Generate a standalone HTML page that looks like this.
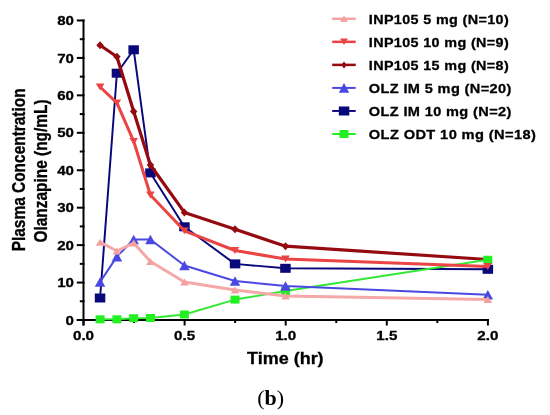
<!DOCTYPE html>
<html><head><meta charset="utf-8"><style>
html,body{margin:0;padding:0;background:#fff;}
svg{display:block;filter:blur(0.35px);}
.tk{font-family:"Liberation Sans",sans-serif;font-weight:bold;font-size:13px;fill:#000;stroke:#000;stroke-width:0.3px;}
.lg{font-family:"Liberation Sans",sans-serif;font-weight:bold;font-size:13.6px;letter-spacing:0.35px;fill:#000;stroke:#000;stroke-width:0.3px;}
.at{font-family:"Liberation Sans",sans-serif;font-weight:bold;font-size:16px;fill:#000;stroke:#000;stroke-width:0.3px;}
.yt{font-family:"Liberation Sans",sans-serif;font-weight:bold;font-size:15.45px;fill:#000;stroke:#000;stroke-width:0.3px;}
.cap{font-family:"Liberation Serif",serif;font-size:20px;fill:#000;}
</style></head><body>
<svg width="550" height="415" viewBox="0 0 550 415">
<rect width="550" height="415" fill="#fff"/>
<line x1="83.5" y1="19.5" x2="83.5" y2="325.5" stroke="#000" stroke-width="2"/>
<line x1="76.8" y1="320" x2="488.9" y2="320" stroke="#000" stroke-width="2"/>
<line x1="76.8" y1="320.00" x2="84.5" y2="320.00" stroke="#000" stroke-width="2"/>
<text transform="translate(74.0,324.60) scale(1.16,1)" class="tk" text-anchor="end">0</text>
<line x1="79.8" y1="301.28" x2="84.5" y2="301.28" stroke="#000" stroke-width="2"/>
<line x1="76.8" y1="282.56" x2="84.5" y2="282.56" stroke="#000" stroke-width="2"/>
<text transform="translate(74.0,287.16) scale(1.16,1)" class="tk" text-anchor="end">10</text>
<line x1="79.8" y1="263.84" x2="84.5" y2="263.84" stroke="#000" stroke-width="2"/>
<line x1="76.8" y1="245.12" x2="84.5" y2="245.12" stroke="#000" stroke-width="2"/>
<text transform="translate(74.0,249.72) scale(1.16,1)" class="tk" text-anchor="end">20</text>
<line x1="79.8" y1="226.40" x2="84.5" y2="226.40" stroke="#000" stroke-width="2"/>
<line x1="76.8" y1="207.68" x2="84.5" y2="207.68" stroke="#000" stroke-width="2"/>
<text transform="translate(74.0,212.28) scale(1.16,1)" class="tk" text-anchor="end">30</text>
<line x1="79.8" y1="188.96" x2="84.5" y2="188.96" stroke="#000" stroke-width="2"/>
<line x1="76.8" y1="170.24" x2="84.5" y2="170.24" stroke="#000" stroke-width="2"/>
<text transform="translate(74.0,174.84) scale(1.16,1)" class="tk" text-anchor="end">40</text>
<line x1="79.8" y1="151.52" x2="84.5" y2="151.52" stroke="#000" stroke-width="2"/>
<line x1="76.8" y1="132.80" x2="84.5" y2="132.80" stroke="#000" stroke-width="2"/>
<text transform="translate(74.0,137.40) scale(1.16,1)" class="tk" text-anchor="end">50</text>
<line x1="79.8" y1="114.08" x2="84.5" y2="114.08" stroke="#000" stroke-width="2"/>
<line x1="76.8" y1="95.36" x2="84.5" y2="95.36" stroke="#000" stroke-width="2"/>
<text transform="translate(74.0,99.96) scale(1.16,1)" class="tk" text-anchor="end">60</text>
<line x1="79.8" y1="76.64" x2="84.5" y2="76.64" stroke="#000" stroke-width="2"/>
<line x1="76.8" y1="57.92" x2="84.5" y2="57.92" stroke="#000" stroke-width="2"/>
<text transform="translate(74.0,62.52) scale(1.16,1)" class="tk" text-anchor="end">70</text>
<line x1="79.8" y1="39.20" x2="84.5" y2="39.20" stroke="#000" stroke-width="2"/>
<line x1="76.8" y1="20.48" x2="84.5" y2="20.48" stroke="#000" stroke-width="2"/>
<text transform="translate(74.0,25.08) scale(1.16,1)" class="tk" text-anchor="end">80</text>
<line x1="83.50" y1="319" x2="83.50" y2="325.5" stroke="#000" stroke-width="2"/>
<text transform="translate(83.50,339.8) scale(1.17,1)" class="tk" text-anchor="middle">0.0</text>
<line x1="134.05" y1="319" x2="134.05" y2="323" stroke="#000" stroke-width="2"/>
<line x1="184.60" y1="319" x2="184.60" y2="325.5" stroke="#000" stroke-width="2"/>
<text transform="translate(184.60,339.8) scale(1.17,1)" class="tk" text-anchor="middle">0.5</text>
<line x1="235.15" y1="319" x2="235.15" y2="323" stroke="#000" stroke-width="2"/>
<line x1="285.70" y1="319" x2="285.70" y2="325.5" stroke="#000" stroke-width="2"/>
<text transform="translate(285.70,339.8) scale(1.17,1)" class="tk" text-anchor="middle">1.0</text>
<line x1="336.25" y1="319" x2="336.25" y2="323" stroke="#000" stroke-width="2"/>
<line x1="386.80" y1="319" x2="386.80" y2="325.5" stroke="#000" stroke-width="2"/>
<text transform="translate(386.80,339.8) scale(1.17,1)" class="tk" text-anchor="middle">1.5</text>
<line x1="437.35" y1="319" x2="437.35" y2="323" stroke="#000" stroke-width="2"/>
<line x1="487.90" y1="319" x2="487.90" y2="325.5" stroke="#000" stroke-width="2"/>
<text transform="translate(487.90,339.8) scale(1.17,1)" class="tk" text-anchor="middle">2.0</text>
<polyline points="100.1,298.0 116.9,73.2 133.7,49.8 150.4,172.9 184.4,226.8 235.0,263.9 285.5,268.3 487.8,269.3" fill="none" stroke="#08087A" stroke-width="1.95" stroke-linejoin="round"/>
<rect x="94.8" y="293.5" width="10.5" height="9" fill="#08087A"/>
<rect x="111.7" y="68.7" width="10.5" height="9" fill="#08087A"/>
<rect x="128.4" y="45.3" width="10.5" height="9" fill="#08087A"/>
<rect x="145.2" y="168.4" width="10.5" height="9" fill="#08087A"/>
<rect x="179.2" y="222.3" width="10.5" height="9" fill="#08087A"/>
<rect x="229.8" y="259.4" width="10.5" height="9" fill="#08087A"/>
<rect x="280.2" y="263.8" width="10.5" height="9" fill="#08087A"/>
<rect x="482.6" y="264.8" width="10.5" height="9" fill="#08087A"/>
<polyline points="100.1,45.3 116.9,56.8 133.7,111.5 150.4,165.0 184.4,212.4 235.0,229.3 285.5,246.2 487.8,259.5" fill="none" stroke="#950A10" stroke-width="3.2" stroke-linejoin="round"/>
<polygon points="96.3,45.3 100.1,41.3 103.8,45.3 100.1,49.3" fill="#950A10"/>
<polygon points="113.2,56.8 116.9,52.8 120.7,56.8 116.9,60.8" fill="#950A10"/>
<polygon points="129.9,111.5 133.7,107.5 137.4,111.5 133.7,115.5" fill="#950A10"/>
<polygon points="146.7,165.0 150.4,161.0 154.2,165.0 150.4,169.0" fill="#950A10"/>
<polygon points="180.7,212.4 184.4,208.4 188.2,212.4 184.4,216.4" fill="#950A10"/>
<polygon points="231.2,229.3 235.0,225.3 238.8,229.3 235.0,233.3" fill="#950A10"/>
<polygon points="281.8,246.2 285.5,242.2 289.2,246.2 285.5,250.2" fill="#950A10"/>
<polygon points="484.1,259.5 487.8,255.5 491.6,259.5 487.8,263.5" fill="#950A10"/>
<polyline points="100.1,319.3 116.9,319.3 133.7,318.2 150.4,318.0 184.4,314.5 235.0,299.6 285.5,291.0 487.8,259.8" fill="none" stroke="#36E836" stroke-width="2" stroke-linejoin="round"/>
<rect x="95.6" y="315.3" width="9" height="8" fill="#22F022"/>
<rect x="112.4" y="315.3" width="9" height="8" fill="#22F022"/>
<rect x="129.2" y="314.2" width="9" height="8" fill="#22F022"/>
<rect x="145.9" y="314.0" width="9" height="8" fill="#22F022"/>
<rect x="179.9" y="310.5" width="9" height="8" fill="#22F022"/>
<rect x="230.5" y="295.6" width="9" height="8" fill="#22F022"/>
<rect x="281.0" y="287.0" width="9" height="8" fill="#22F022"/>
<rect x="483.3" y="255.8" width="9" height="8" fill="#22F022"/>
<polyline points="100.1,282.0 116.9,256.6 133.7,239.5 150.4,239.5 184.4,265.5 235.0,281.0 285.5,286.0 487.8,294.8" fill="none" stroke="#4A48E0" stroke-width="2" stroke-linejoin="round"/>
<polygon points="94.8,286.8 105.3,286.8 100.1,277.2" fill="#4A48E0"/>
<polygon points="111.7,261.4 122.2,261.4 116.9,251.8" fill="#4A48E0"/>
<polygon points="128.4,244.3 138.9,244.3 133.7,234.7" fill="#4A48E0"/>
<polygon points="145.2,244.3 155.7,244.3 150.4,234.7" fill="#4A48E0"/>
<polygon points="179.2,270.3 189.7,270.3 184.4,260.7" fill="#4A48E0"/>
<polygon points="229.8,285.8 240.2,285.8 235.0,276.2" fill="#4A48E0"/>
<polygon points="280.2,290.8 290.8,290.8 285.5,281.2" fill="#4A48E0"/>
<polygon points="482.6,299.6 493.1,299.6 487.8,290.0" fill="#4A48E0"/>
<polyline points="100.1,242.2 116.9,251.0 133.7,243.0 150.4,261.5 184.4,282.0 235.0,290.0 285.5,296.0 487.8,299.5" fill="none" stroke="#F4A8A8" stroke-width="3" stroke-linejoin="round"/>
<polygon points="95.8,245.7 104.4,245.7 100.1,238.7" fill="#F3A0A0"/>
<polygon points="112.6,254.5 121.2,254.5 116.9,247.5" fill="#F3A0A0"/>
<polygon points="129.4,246.5 138.0,246.5 133.7,239.5" fill="#F3A0A0"/>
<polygon points="146.1,265.0 154.7,265.0 150.4,258.0" fill="#F3A0A0"/>
<polygon points="180.1,285.5 188.7,285.5 184.4,278.5" fill="#F3A0A0"/>
<polygon points="230.7,293.5 239.3,293.5 235.0,286.5" fill="#F3A0A0"/>
<polygon points="281.2,299.5 289.8,299.5 285.5,292.5" fill="#F3A0A0"/>
<polygon points="483.5,303.0 492.1,303.0 487.8,296.0" fill="#F3A0A0"/>
<polyline points="100.1,87.0 116.9,102.8 133.7,141.3 150.4,195.0 184.4,230.8 235.0,250.5 285.5,259.0 487.8,266.5" fill="none" stroke="#EA4444" stroke-width="3" stroke-linejoin="round"/>
<polygon points="95.8,83.6 104.4,83.6 100.1,90.4" fill="#EA4444"/>
<polygon points="112.6,99.4 121.2,99.4 116.9,106.2" fill="#EA4444"/>
<polygon points="129.4,137.9 138.0,137.9 133.7,144.7" fill="#EA4444"/>
<polygon points="146.1,191.6 154.7,191.6 150.4,198.4" fill="#EA4444"/>
<polygon points="180.1,227.4 188.7,227.4 184.4,234.2" fill="#EA4444"/>
<polygon points="230.7,247.1 239.3,247.1 235.0,253.9" fill="#EA4444"/>
<polygon points="281.2,255.6 289.8,255.6 285.5,262.4" fill="#EA4444"/>
<polygon points="483.5,263.1 492.1,263.1 487.8,269.9" fill="#EA4444"/>
<line x1="332.2" y1="18.80" x2="355.7" y2="18.80" stroke="#F3A0A0" stroke-width="2.5"/>
<polygon points="340.2,22.1 347.8,22.1 344.0,15.5" fill="#F3A0A0"/>
<text x="368.8" y="23.70" textLength="140.3" lengthAdjust="spacingAndGlyphs" class="lg">INP105 5 mg (N=10)</text>
<line x1="332.2" y1="41.84" x2="355.7" y2="41.84" stroke="#EA4444" stroke-width="2.5"/>
<polygon points="340.0,38.6 348.0,38.6 344.0,45.0" fill="#EA4444"/>
<text x="368.8" y="46.74" textLength="140.3" lengthAdjust="spacingAndGlyphs" class="lg">INP105 10 mg (N=9)</text>
<line x1="332.2" y1="64.88" x2="355.7" y2="64.88" stroke="#950A10" stroke-width="2.5"/>
<polygon points="341.2,64.9 344.0,61.4 346.8,64.9 344.0,68.4" fill="#950A10"/>
<text x="368.8" y="69.78" textLength="140.3" lengthAdjust="spacingAndGlyphs" class="lg">INP105 15 mg (N=8)</text>
<line x1="332.2" y1="87.92" x2="355.7" y2="87.92" stroke="#4A48E0" stroke-width="2"/>
<polygon points="338.8,92.7 349.2,92.7 344.0,83.1" fill="#4A48E0"/>
<text x="368.8" y="92.82" textLength="142.9" lengthAdjust="spacingAndGlyphs" class="lg">OLZ IM 5 mg (N=20)</text>
<line x1="332.2" y1="110.96" x2="355.7" y2="110.96" stroke="#08087A" stroke-width="1.95"/>
<rect x="338.8" y="106.5" width="10.5" height="9" fill="#08087A"/>
<text x="368.8" y="115.86" textLength="142.9" lengthAdjust="spacingAndGlyphs" class="lg">OLZ IM 10 mg (N=2)</text>
<line x1="332.2" y1="134.00" x2="355.7" y2="134.00" stroke="#22F022" stroke-width="2"/>
<rect x="339.5" y="130.0" width="9" height="8" fill="#22F022"/>
<text x="368.8" y="138.90" textLength="167.4" lengthAdjust="spacingAndGlyphs" class="lg">OLZ ODT 10 mg (N=18)</text>
<text transform="translate(247.0,364.3) scale(1.125,1)" class="at">Time (hr)</text>
<text transform="translate(24.9,251.3) scale(1.17,1) rotate(-90)" class="yt">Plasma Concentration</text>
<text transform="translate(47.3,242.6) scale(1.17,1) rotate(-90)" class="yt">Olanzapine (ng/mL)</text>
<text transform="translate(257.2,404.8) scale(1.1,1)" class="cap">(<tspan font-weight="bold">b</tspan>)</text>
</svg>
</body></html>
